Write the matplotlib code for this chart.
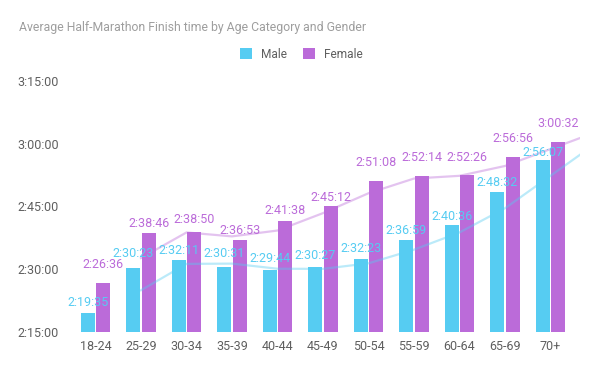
import numpy as np
import pandas as pd
import matplotlib
matplotlib.use('Agg')
import matplotlib.pyplot as plt
from matplotlib.ticker import FuncFormatter

# data (h:mm:ss)
age_groups = ['18-24', '25-29', '30-34', '35-39', '40-44', '45-49',
              '50-54', '55-59', '60-64', '65-69', '70+']
male_times = ['2:19:35', '2:30:23', '2:32:11', '2:30:31', '2:29:44', '2:30:27',
              '2:32:23', '2:36:59', '2:40:36', '2:48:32', '2:56:07']
female_times = ['2:26:36', '2:38:46', '2:38:50', '2:36:53', '2:41:38', '2:45:12',
                '2:51:08', '2:52:14', '2:52:26', '2:56:56', '3:00:32']
y_ticks = ['2:15:00', '2:30:00', '2:45:00', '3:00:00', '3:15:00']

# gap (px) between bar top and its label, as the chart tool placed them
male_gap = [7, 11, 6, 10, 8, 8, 7, 6, 5, 6, 4]
female_gap = [15, 6, 9, 6.5, 6.5, 5, 15, 15, 14.5, 15, 15]

MALE = '#56CCF2'
FEMALE = '#BB6BD9'


def to_sec(s):
    h, m, sec = s.split(':')
    return int(h) * 3600 + int(m) * 60 + int(sec)


def fmt(v, pos=None):
    v = int(round(v))
    return '%d:%02d:%02d' % (v // 3600, (v % 3600) // 60, v % 60)


male = np.array([to_sec(t) for t in male_times])
female = np.array([to_sec(t) for t in female_times])
yt = [to_sec(t) for t in y_ticks]

plt.rcParams['font.family'] = ['Roboto', 'DejaVu Sans']

fig = plt.figure(figsize=(6, 3.71), dpi=100)
ax = fig.add_axes([0.1213, 0.1051, 0.9667 - 0.1213, 0.7817 - 0.1051])

x = np.arange(len(age_groups))
w = 0.307
off = 0.168
ax.bar(x - off, male, w, color=MALE, zorder=2, label='Male')
ax.bar(x + off, female, w, color=FEMALE, zorder=2, label='Female')

# moving average trendlines (period 2), continued with the last slope
for vals, col in [(male, MALE), (female, FEMALE)]:
    ma = pd.Series(vals).rolling(2).mean().dropna().values
    xs = np.arange(1, len(ma) + 1)
    ma = np.append(ma, ma[-1] + (ma[-1] - ma[-2]))
    xs = np.append(xs, xs[-1] + 1)
    ax.plot(xs, ma, color=col, alpha=0.4, lw=1.6, zorder=3)

# value labels
for i in range(len(x)):
    ax.annotate(male_times[i], (x[i] - off, male[i]), xytext=(0, male_gap[i] * 0.72),
                textcoords='offset points', ha='center', va='baseline',
                color=MALE, fontsize=9, zorder=4)
    ax.annotate(female_times[i], (x[i] + off, female[i]), xytext=(0, female_gap[i] * 0.72),
                textcoords='offset points', ha='center', va='baseline',
                color=FEMALE, fontsize=9, zorder=4)

ax.set_ylim(yt[0], yt[-1])
ax.set_xlim(-0.5, 10.65)
ax.set_yticks(yt)
ax.yaxis.set_major_formatter(FuncFormatter(fmt))
ax.set_xticks(x)
ax.set_xticklabels(age_groups)
ax.tick_params(length=0, labelsize=9, labelcolor='#5f5f5f')
ax.tick_params(axis='y', pad=10)
ax.tick_params(axis='x', pad=6)
for s in ax.spines.values():
    s.set_visible(False)

fig.text(19 / 600, 1 - 30.5 / 371,
         'Average Half-Marathon Finish time by Age Category and Gender',
         fontsize=8.8, color='#9e9e9e', va='baseline', ha='left')

fig.legend(loc='center', bbox_to_anchor=(0.502, 1 - 54 / 371), ncol=2,
           frameon=False, fontsize=8.6, handlelength=1.0, handleheight=1.0,
           handletextpad=0.75, columnspacing=1.35, labelcolor='#5f5f5f')

fig.savefig('out.png', dpi=100)
